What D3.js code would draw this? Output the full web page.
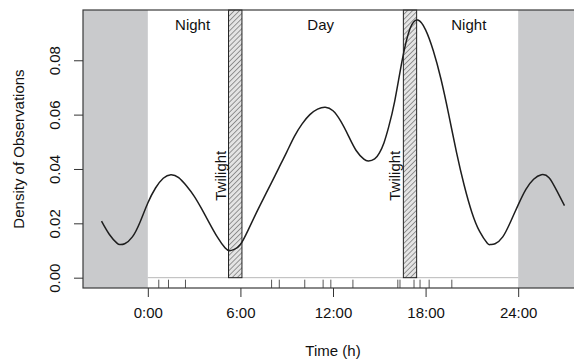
<!DOCTYPE html>
<html>
<head>
<meta charset="utf-8">
<script src="https://cdn.jsdelivr.net/npm/d3@7"></script>
<style>
  body { margin: 0; background: #fff; }
  svg { display: block; font-family: Arial, "Liberation Sans", Helvetica, sans-serif; }
</style>
</head>
<body>
<div id="chart"></div>
<script>
// kernel density of observations over the day (hours)
const curveHours = [-3.0, -2.5, -2.0, -1.8, -1.5, -1.0, -0.5, 0.0, 0.5, 1.0, 1.5, 2.0, 2.5, 3.0, 3.5, 4.0, 4.5, 5.0, 5.3, 5.6, 6.0, 6.5, 7.0, 7.5, 8.0, 8.5, 9.0, 9.5, 10.0, 10.5, 11.0, 11.5, 12.0, 12.5, 13.0, 13.5, 14.0, 14.3, 14.7, 15.0, 15.3, 15.6, 16.0, 16.5, 17.0, 17.5, 18.0, 18.5, 19.0, 19.5, 20.0, 20.5, 21.0, 21.5, 22.0, 22.2, 22.5, 23.0, 23.5, 24.0, 24.5, 25.0, 25.5, 26.0, 26.5, 27.0];
const curveDensity = [0.0208, 0.0160, 0.0127, 0.0122, 0.0125, 0.0150, 0.0205, 0.0275, 0.0330, 0.0366, 0.0379, 0.0368, 0.0338, 0.0300, 0.0252, 0.0200, 0.0150, 0.0110, 0.0099, 0.0104, 0.0122, 0.0175, 0.0235, 0.0292, 0.0348, 0.0405, 0.0462, 0.0520, 0.0566, 0.0600, 0.0620, 0.0627, 0.0614, 0.0576, 0.0522, 0.0468, 0.0436, 0.0429, 0.0437, 0.0458, 0.0496, 0.0553, 0.0650, 0.0805, 0.0918, 0.0948, 0.0912, 0.0835, 0.0730, 0.0600, 0.0462, 0.0340, 0.0240, 0.0170, 0.0127, 0.0122, 0.0125, 0.0150, 0.0205, 0.0268, 0.0325, 0.0362, 0.0379, 0.0368, 0.0320, 0.0265];

// individual observation times (rug)
const obsHours = [0.71, 1.34, 2.44, 8.02, 8.52, 10.17, 11.36, 11.86, 13.29, 16.2, 16.34, 17.25, 17.64, 18.23, 19.7];

// twilight periods
const twilightStart = [5.23, 16.56];
const twilightEnd = [6.1, 17.42];

const periodLabels = ['Night', 'Day', 'Night'];
const periodLabelHours = [2.9, 11.2, 20.8];

const xTicks = [0, 6, 12, 18, 24];
const xTickLabels = ['0:00', '6:00', '12:00', '18:00', '24:00'];
const yTicks = [0, 0.02, 0.04, 0.06, 0.08];

const W = 574, H = 359;
const margin = { top: 10, left: 83, bottom: 71, right: -9 };
const plotW = W - margin.left - margin.right;
const plotH = H - margin.top - margin.bottom;

const svg = d3.select('#chart').append('svg')
  .attr('width', W)
  .attr('height', H);

const x = d3.scaleLinear().domain([-4.2, 28.2]).range([margin.left, margin.left + plotW]);
const y = d3.scaleLinear().domain([-0.0038, 0.0985]).range([margin.top + plotH, margin.top]);

const defs = svg.append('defs');
const hatch = defs.append('pattern')
  .attr('id', 'hatch')
  .attr('patternUnits', 'userSpaceOnUse')
  .attr('width', 3.6)
  .attr('height', 3.6)
  .attr('patternTransform', 'rotate(45)');
hatch.append('rect').attr('width', 3.6).attr('height', 3.6).attr('fill', '#e4e4e4');
hatch.append('line')
  .attr('x1', 0).attr('y1', 0).attr('x2', 0).attr('y2', 3.6)
  .attr('stroke', '#666').attr('stroke-width', 1.3);

const yTop = y.range()[1], yBot = y.range()[0];

// grey shading outside 0-24h
const shade = [[-4.2, 0], [24, 28.2]];
svg.selectAll('.shade')
  .data(shade)
  .enter()
  .append('rect')
  .attr('class', 'shade')
  .attr('x', d => x(d[0]))
  .attr('y', yTop)
  .attr('width', d => x(d[1]) - x(d[0]))
  .attr('height', yBot - yTop)
  .attr('fill', '#c9cacc');

// zero line
svg.append('line')
  .attr('x1', x(0)).attr('x2', x(24))
  .attr('y1', y(0)).attr('y2', y(0))
  .attr('stroke', '#b8b8b8')
  .attr('stroke-width', 1);

// twilight bars
svg.selectAll('.twilight')
  .data(twilightStart)
  .enter()
  .append('rect')
  .attr('class', 'twilight')
  .attr('x', d => x(d))
  .attr('y', yTop)
  .attr('width', (d, i) => x(twilightEnd[i]) - x(d))
  .attr('height', y(0) - yTop)
  .attr('fill', 'url(#hatch)')
  .attr('stroke', '#222')
  .attr('stroke-width', 1);

// density curve
const pts = curveHours.map((h, i) => [h, curveDensity[i]]);
const line = d3.line()
  .x(d => x(d[0]))
  .y(d => y(d[1]))
  .curve(d3.curveNatural);
svg.append('path')
  .datum(pts)
  .attr('d', line)
  .attr('fill', 'none')
  .attr('stroke', '#1e1e1e')
  .attr('stroke-width', 1.5);

// rug
const rugLen = plotH * 0.03;
svg.selectAll('.rug')
  .data(obsHours)
  .enter()
  .append('line')
  .attr('class', 'rug')
  .attr('x1', d => x(d)).attr('x2', d => x(d))
  .attr('y1', yBot).attr('y2', yBot - rugLen)
  .attr('stroke', '#555')
  .attr('stroke-width', 1);

// box
svg.append('rect')
  .attr('x', margin.left)
  .attr('y', margin.top)
  .attr('width', plotW)
  .attr('height', plotH)
  .attr('fill', 'none')
  .attr('stroke', '#3a3a3a')
  .attr('stroke-width', 1.2);

// period labels
svg.selectAll('.period')
  .data(periodLabels)
  .enter()
  .append('text')
  .attr('class', 'period')
  .attr('x', (d, i) => x(periodLabelHours[i]))
  .attr('y', yTop + 20)
  .attr('text-anchor', 'middle')
  .attr('font-size', 15)
  .attr('fill', '#111')
  .text(d => d);

// twilight labels
svg.selectAll('.twlabel')
  .data(twilightStart)
  .enter()
  .append('text')
  .attr('class', 'twlabel')
  .attr('transform', d => `translate(${x(d) - 3}, ${y(0.0375)}) rotate(-90)`)
  .attr('text-anchor', 'middle')
  .attr('font-size', 15)
  .attr('fill', '#111')
  .text('Twilight');

// x axis
const xAxis = svg.append('g')
  .attr('class', 'axis axis-x')
  .attr('transform', `translate(0, ${yBot})`)
  .call(d3.axisBottom(x).tickValues(xTicks).tickFormat((d, i) => xTickLabels[i]).tickSize(9).tickPadding(10));
xAxis.select('.domain').remove();
xAxis.selectAll('line').attr('stroke', '#333');
xAxis.selectAll('text').attr('font-size', 15).attr('fill', '#111').attr('font-family', 'Arial, "Liberation Sans", sans-serif');

// y axis
const yAxis = svg.append('g')
  .attr('class', 'axis axis-y')
  .attr('transform', `translate(${margin.left}, 0)`)
  .call(d3.axisLeft(y).tickValues(yTicks).tickFormat(d3.format('.2f')).tickSize(9));
yAxis.select('.domain').remove();
yAxis.selectAll('line').attr('stroke', '#333');
yAxis.selectAll('text')
  .attr('font-size', 15)
  .attr('fill', '#111')
  .attr('font-family', 'Arial, "Liberation Sans", sans-serif')
  .attr('x', null)
  .attr('dy', null)
  .attr('text-anchor', 'middle')
  .attr('transform', 'translate(-23, 0) rotate(-90)');

// axis titles
svg.append('text')
  .attr('x', margin.left + plotW / 2)
  .attr('y', 356)
  .attr('text-anchor', 'middle')
  .attr('font-size', 15)
  .attr('fill', '#111')
  .text('Time (h)');

svg.append('text')
  .attr('transform', `translate(24, ${margin.top + plotH / 2}) rotate(-90)`)
  .attr('text-anchor', 'middle')
  .attr('font-size', 15)
  .attr('fill', '#111')
  .text('Density of Observations');
</script>
</body>
</html>
